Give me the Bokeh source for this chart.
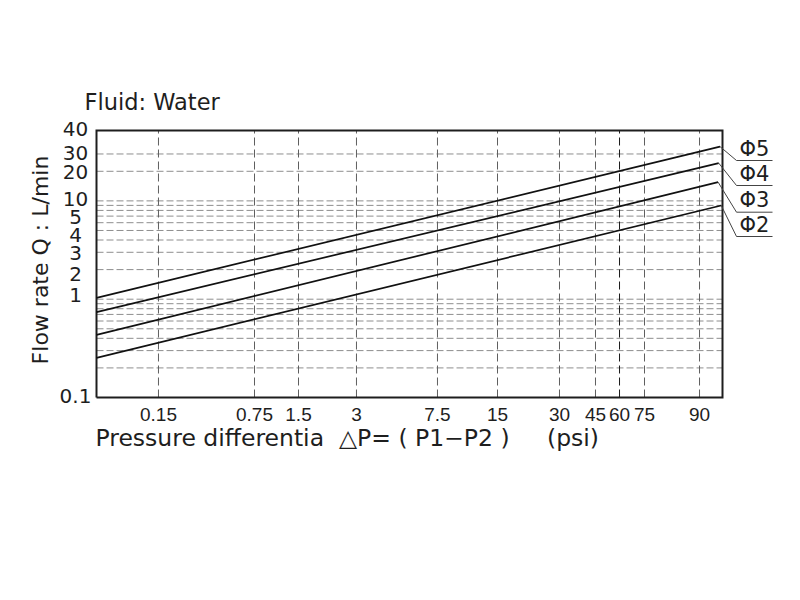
import math
from bokeh.plotting import figure
from bokeh.models import Range1d
from bokeh.core.properties import value
from bokeh.embed import file_html
from bokeh.resources import INLINE

# ---------------- data ----------------
# x axis: schematic pressure scale (psi); tick positions along the box (0..100)
x_tick_labels = ["0.15", "0.75", "1.5", "3", "7.5", "15", "30", "45", "60", "75", "90"]
x_tick_pos = [9.90, 25.24, 32.27, 41.53, 54.47, 64.06, 73.96, 79.71, 83.55, 87.54, 96.33]

# y axis: flow rate Q (L/min), log scale; the top edge is labelled "40"
y_tick_values = [0.1, 1, 2, 3, 4, 5, 10, 20, 30, 52]
y_tick_labels = ["0.1", "1", "2", "3", "4", "5", "10", "20", "30", "40"]
y_grid_values = [0.2, 0.3, 0.4, 0.5, 0.6, 0.7, 0.8, 0.9, 1,
                 2, 3, 4, 5, 6, 7, 8, 9, 10, 20, 30]

# orifice series (straight lines from the left edge to the right edge)
series_names = ["Φ5", "Φ4", "Φ3", "Φ2"]
x_start = [0, 0, 0, 0]
x_end = [99.6, 99.4, 99.3, 99.8]
flow_start = [1.03, 0.74, 0.434, 0.253]
flow_end = [35.7, 24.2, 15.5, 8.98]

title_text = "Fluid: Water"
y_title = "Flow rate Q : L/min"
x_title = ("Pressure differentia\u00a0\u00a0△P=\u00a0(\u00a0P1−P2\u00a0)"
           "\u00a0\u00a0\u00a0\u00a0\u00a0(psi)")

# ---------------- layout (screen pixels) ----------------
W, H = 800, 600
BOX_L, BOX_R, BOX_T, BOX_B = 96, 722, 130, 397
X0, X1 = 0.0, 100.0
Y_BOT, Y_TOP = y_tick_values[0], y_tick_values[-1]
XU = (X1 - X0) / (BOX_R - BOX_L)
DEC = (BOX_B - BOX_T) / math.log10(Y_TOP / Y_BOT)


def xd(px):
    return X0 + (px - BOX_L) * XU


def yd(py):
    return Y_BOT * 10 ** ((BOX_B - py) / DEC)


p = figure(width=W, height=H,
           x_range=Range1d(xd(0), xd(W)), y_range=Range1d(yd(H), yd(0)),
           y_axis_type="log", x_axis_location=None, y_axis_location=None,
           output_backend="svg", toolbar_location=None,
           min_border=0, min_border_left=0, min_border_right=0,
           min_border_top=0, min_border_bottom=0)
p.outline_line_color = None
p.xgrid.grid_line_color = None
p.ygrid.grid_line_color = None
p.background_fill_color = "white"
p.border_fill_color = "white"

INK = "#1e1e1e"
FONT = value("DejaVu Sans")

# grid lines
p.segment(x0=X0, y0=y_grid_values, x1=X1, y1=y_grid_values,
          line_color="#8e8e8e", line_width=1, line_dash="7 3")
v_colors = ["#1a1a1a" if l == "60" else "#5f5f5f" for l in x_tick_labels]
p.segment(x0=x_tick_pos, y0=Y_BOT, x1=x_tick_pos, y1=Y_TOP,
          line_color=v_colors, line_width=1, line_dash="8 4")

# chart box
p.line(x=[X0, X1, X1, X0, X0], y=[Y_BOT, Y_BOT, Y_TOP, Y_TOP, Y_BOT],
       line_color=INK, line_width=2, line_join="miter")

# series lines
p.segment(x0=x_start, y0=flow_start, x1=x_end, y1=flow_end,
          line_color="#111111", line_width=1.7)

# series labels with leader lines
under_py = [160, 185, 211.7, 236]
xs, ys = [], []
for xe, fe, u in zip(x_end, flow_end, under_py):
    xs.append([xe, xd(736), xd(772)])
    ys.append([fe, yd(u), yd(u)])
p.multi_line(xs=xs, ys=ys, line_color="#444444", line_width=1)
p.text(x=xd(739), y=[yd(u - 12) for u in under_py], text=series_names,
       text_font=FONT, text_font_size="21px",
       text_baseline="middle", text_align="left", text_color=INK)

# y tick labels (small vertical nudges as drawn in the original)
y_nudge = [-2, -4, 4, 1, -5, -13, -2, 1, -1, -2]
p.text(x=X0, y=y_tick_values, text=y_tick_labels, x_offset=-21, y_offset=y_nudge,
       text_font=FONT, text_font_size="20px", text_align="center",
       text_baseline="middle", text_color=INK)

# x tick labels
p.text(x=x_tick_pos, y=Y_BOT, text=x_tick_labels, y_offset=17,
       text_font=value("Liberation Sans"), text_font_size="19px",
       text_align="center", text_baseline="middle", text_color=INK)

# titles
p.text(x=[X0], y=[Y_TOP], text=[title_text], x_offset=-12, y_offset=-29,
       text_font=FONT, text_font_size="22.5px", text_align="left",
       text_baseline="middle", text_color=INK)
p.text(x=[X0], y=[Y_BOT], text=[x_title], x_offset=-1, y_offset=40,
       text_font=FONT, text_font_size="23.5px", text_align="left",
       text_baseline="middle", text_color=INK)
p.text(x=[X0], y=[math.sqrt(Y_BOT * Y_TOP)], text=[y_title], x_offset=-56, y_offset=-4,
       angle=math.pi / 2, text_font=FONT, text_font_size="22px",
       text_align="center", text_baseline="middle", text_color=INK)

open("out.html", "w").write(file_html(p, INLINE))
